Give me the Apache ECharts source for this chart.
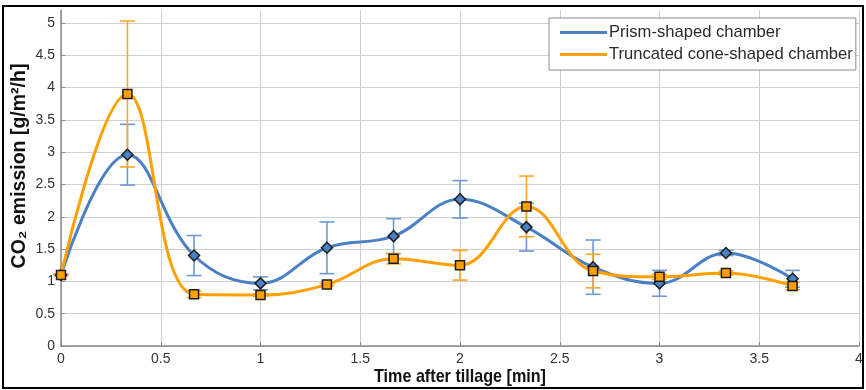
<!DOCTYPE html>
<html>
<head>
<meta charset="utf-8">
<script src="https://cdn.jsdelivr.net/npm/echarts@6/dist/echarts.min.js"></script>
<style>
  html, body { margin: 0; padding: 0; background: #fff; }
  #chart { width: 866px; height: 390px; }
</style>
</head>
<body>
<div id="chart"></div>
<script>
// Sampling times after tillage [min]
const timeMin = [0, 0.333, 0.667, 1, 1.333, 1.667, 2, 2.333, 2.667, 3, 3.333, 3.667];

// Prism-shaped chamber: mean CO2 emission and standard deviation [g/m2/h]
const prismMean = [1.10, 2.96, 1.40, 0.97, 1.52, 1.70, 2.27, 1.84, 1.22, 0.97, 1.44, 1.04];
const prismErr  = [0.01, 0.47, 0.31, 0.10, 0.40, 0.27, 0.29, 0.37, 0.42, 0.20, 0.04, 0.13];

// Truncated cone-shaped chamber: mean CO2 emission and standard deviation [g/m2/h]
const coneMean = [1.10, 3.90, 0.80, 0.79, 0.95, 1.35, 1.25, 2.16, 1.16, 1.07, 1.13, 0.93];
const coneErr  = [0.01, 1.13, 0.05, 0.02, 0.02, 0.08, 0.23, 0.47, 0.26, 0.04, 0.03, 0.06];

const seriesNames = ['Prism-shaped chamber', 'Truncated cone-shaped chamber'];
const xTicks = { min: 0, max: 4, step: 0.5 };
const yTicks = { min: 0, max: 5.2, step: 0.5 };

const BLUE = '#4a80c4';
const BLUE_BAR = '#6b9bd2';
const ORANGE = '#ffa000';
const ORANGE_BAR = '#ffa624';
const GRID_GREY = '#cfcfcf';

function points(means) {
  return timeMin.map((t, i) => [t, means[i]]);
}
function ranges(means, errs) {
  return timeMin.map((t, i) => [t, means[i] - errs[i], means[i] + errs[i]]);
}

// Vertical error bar with caps at both ends
function errorBar(color) {
  return function (params, api) {
    const x = api.value(0);
    const lo = api.coord([x, api.value(1)]);
    const hi = api.coord([x, api.value(2)]);
    const hw = 7.5;
    const st = { stroke: color, lineWidth: 1.6 };
    return {
      type: 'group',
      children: [
        { type: 'line', shape: { x1: lo[0], y1: lo[1], x2: hi[0], y2: hi[1] }, style: st },
        { type: 'line', shape: { x1: hi[0] - hw, y1: hi[1], x2: hi[0] + hw, y2: hi[1] }, style: st },
        { type: 'line', shape: { x1: lo[0] - hw, y1: lo[1], x2: lo[0] + hw, y2: lo[1] }, style: st }
      ]
    };
  };
}

// one colour per horizontal grid line; the top edge line is left out
const ySplitColors = [];
for (let v = yTicks.min; v <= 5; v += yTicks.step) ySplitColors.push(GRID_GREY);
ySplitColors.push('rgba(0,0,0,0)');

const chart = echarts.init(document.getElementById('chart'), null, { renderer: 'canvas' });

chart.setOption({
  animation: false,
  backgroundColor: '#fff',
  grid: { left: 61, right: 7, top: 10, bottom: 44, containLabel: false },
  legend: {
    show: true,
    left: 549,
    top: 18,
    orient: 'vertical',
    selectedMode: false,
    data: seriesNames.map(n => ({ name: n, icon: 'rect' })),
    itemWidth: 47,
    itemHeight: 3,
    itemGap: 5,
    padding: [6, 3, 7, 11],
    backgroundColor: '#fff',
    borderColor: '#8c8c8c',
    borderWidth: 1,
    itemStyle: { borderWidth: 0 },
    textStyle: { fontFamily: 'Liberation Sans', fontSize: 16.6, color: '#2a2a2a', padding: [0, 0, 0, -3] }
  },
  xAxis: {
    type: 'value',
    min: xTicks.min,
    max: xTicks.max,
    interval: xTicks.step,
    axisLine: { show: true, onZero: false, lineStyle: { color: '#888', width: 1.5 } },
    axisTick: { show: true, inside: true, length: 4, lineStyle: { color: '#888' } },
    axisLabel: {
      margin: 6,
      fontFamily: 'Liberation Sans',
      fontSize: 14,
      color: '#333',
      formatter: v => String(v)
    },
    splitLine: { show: true, lineStyle: { color: GRID_GREY, width: 1 } }
  },
  yAxis: {
    type: 'value',
    min: yTicks.min,
    max: yTicks.max,
    interval: yTicks.step,
    axisLine: { show: true, onZero: false, lineStyle: { color: '#888', width: 1.5 } },
    axisTick: { show: true, inside: true, length: 4, lineStyle: { color: '#888' } },
    axisLabel: {
      margin: 6,
      showMaxLabel: false,
      fontFamily: 'Liberation Sans',
      fontSize: 14,
      color: '#333',
      formatter: v => (v > 5 ? '' : String(v))
    },
    splitLine: { show: true, lineStyle: { color: ySplitColors, width: 1 } }
  },
  graphic: [
    {
      type: 'rect',
      z: 100,
      silent: true,
      shape: { x: 3, y: 6, width: 860, height: 382 },
      style: { fill: 'none', stroke: '#000', lineWidth: 2 }
    },
    {
      type: 'text',
      z: 100,
      x: 20, y: 166,
      rotation: Math.PI / 2,
      style: {
        text: 'CO₂ emission [g/m²/h]',
        fontFamily: 'Liberation Sans',
        fontWeight: 'bold',
        fontSize: 19.5,
        fill: '#111',
        align: 'center',
        verticalAlign: 'middle'
      }
    },
    {
      type: 'text',
      z: 100,
      x: 460, y: 377,
      scaleX: 0.85,
      style: {
        text: 'Time after tillage [min]',
        fontFamily: 'Liberation Sans',
        fontWeight: 'bold',
        fontSize: 19,
        fill: '#111',
        align: 'center',
        verticalAlign: 'middle'
      }
    }
  ],
  series: [
    {
      type: 'custom',
      name: seriesNames[0] + ' error',
      z: 2,
      silent: true,
      renderItem: errorBar(BLUE_BAR),
      encode: { x: 0, y: [1, 2] },
      data: ranges(prismMean, prismErr)
    },
    {
      type: 'custom',
      name: seriesNames[1] + ' error',
      z: 2,
      silent: true,
      renderItem: errorBar(ORANGE_BAR),
      encode: { x: 0, y: [1, 2] },
      data: ranges(coneMean, coneErr)
    },
    {
      type: 'line',
      name: seriesNames[0],
      z: 3,
      smooth: 0.4,
      data: points(prismMean),
      symbol: 'diamond',
      symbolSize: 11,
      showAllSymbol: true,
      lineStyle: { color: BLUE, width: 3 },
      itemStyle: { color: BLUE, borderColor: '#1c1c1c', borderWidth: 1.5 }
    },
    {
      type: 'line',
      name: seriesNames[1],
      z: 4,
      smooth: 0.4,
      data: points(coneMean),
      symbol: 'rect',
      symbolSize: 9,
      showAllSymbol: true,
      lineStyle: { color: ORANGE, width: 3 },
      itemStyle: { color: ORANGE, borderColor: '#1c1c1c', borderWidth: 1.5 }
    }
  ]
});
</script>
</body>
</html>
